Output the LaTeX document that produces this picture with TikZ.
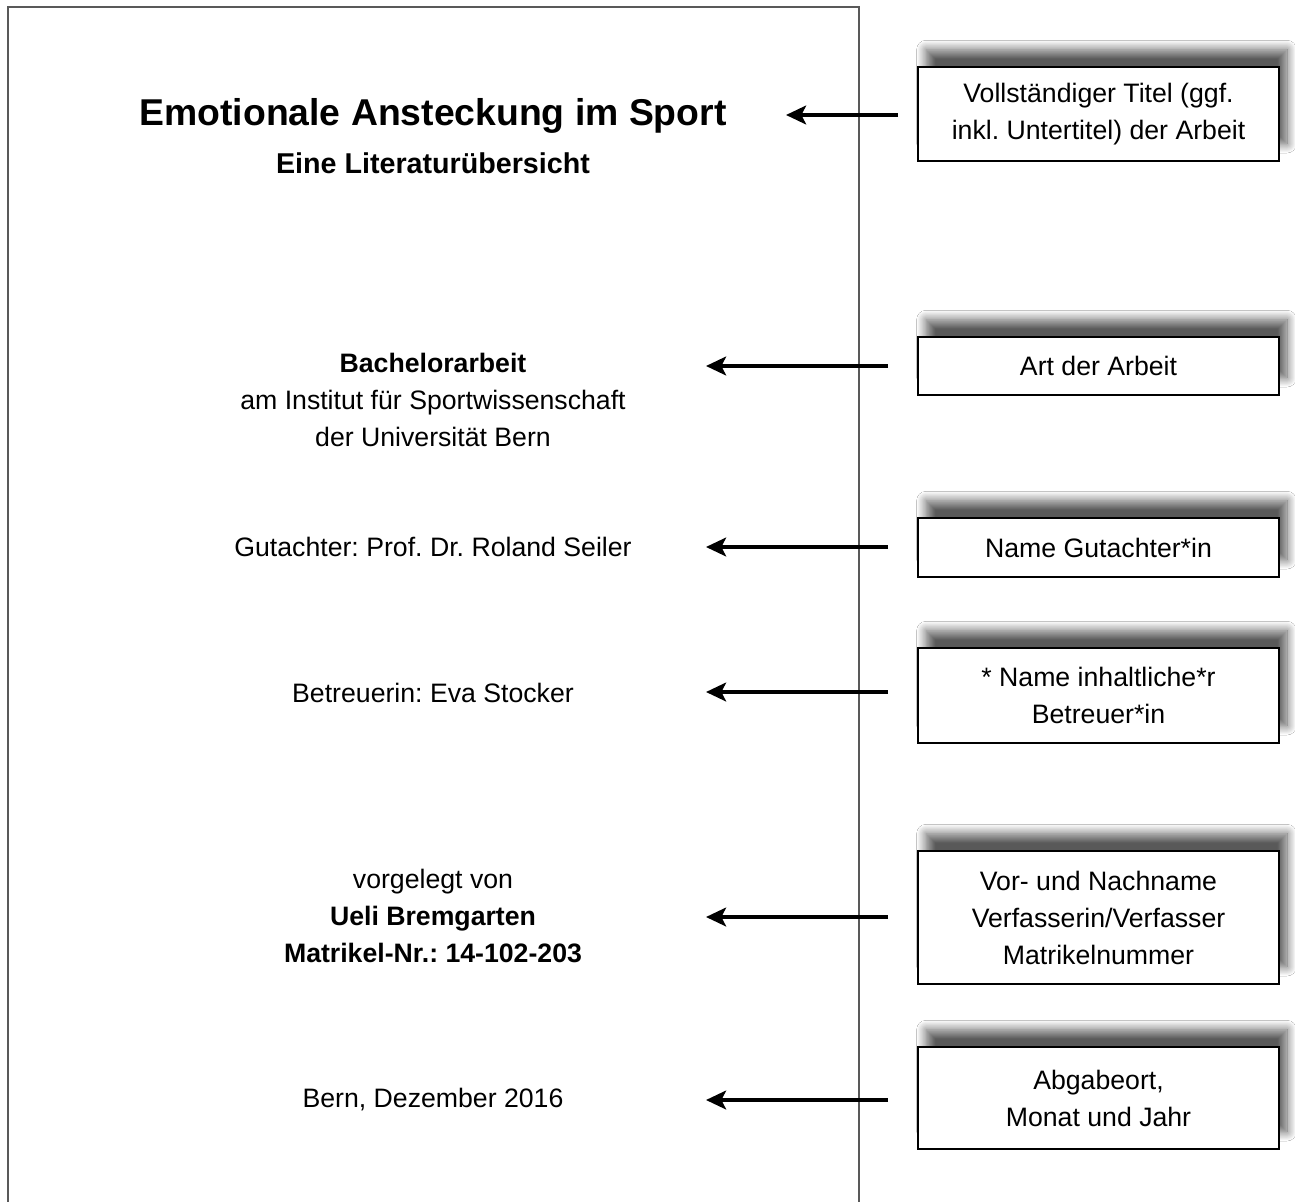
\documentclass[tikz,border=0pt]{standalone}
\usepackage{fontspec}
\setmainfont{Liberation Sans}
\usetikzlibrary{arrows.meta,shadows.blur}
\begin{document}
\frenchspacing
\begin{tikzpicture}[x=0.75pt,y=-0.75pt,
  pagetext/.style={align=center,font=\fontsize{20}{27.75}\selectfont,inner sep=0pt},
  infobox/.style={draw=black,line width=1.1pt,fill=white,align=center,
    minimum width=270.75pt,inner sep=0pt,
    font=\fontsize{20}{27.75}\selectfont,
    blur shadow={shadow xshift=6pt,shadow yshift=13pt,shadow blur radius=7pt,shadow blur steps=12,shadow opacity=65}},
  pointer/.style={line width=3.6pt,-{Stealth[length=15pt,width=14pt,inset=3.5pt]}}]
\useasboundingbox (0,0) rectangle (1295,1202);
\fill[white] (0,0) rectangle (1295,1202);
% page
\draw[line width=1.5pt,color=black!65] (8,1202) -- (8,7) -- (859,7) -- (859,1202);
% page texts
\node[pagetext,font=\fontsize{28}{34}\selectfont\bfseries] (title) at (433,116) {Emotionale Ansteckung im Sport};
\node[pagetext,font=\fontsize{21.5}{27}\selectfont\bfseries] (subtitle) at (433,163) {Eine Literaturübersicht};
\node[pagetext] (art) at (433,400) {\textbf{Bachelorarbeit}\\am Institut für Sportwissenschaft\\der Universität Bern};
\node[pagetext] (gut) at (433,547) {Gutachter: Prof. Dr. Roland Seiler};
\node[pagetext] (betr) at (433,693) {Betreuerin: Eva Stocker};
\node[pagetext] (verf) at (433,916) {vorgelegt von\\\textbf{Ueli Bremgarten}\\\textbf{Matrikel-Nr.: 14-102-203}};
\node[pagetext] (ort) at (433,1100) {Bern, Dezember 2016};
% info boxes
\node[infobox,minimum height=70.5pt] (b1) at (1098.5,114) {Vollständiger Titel (ggf.\\inkl. Untertitel) der Arbeit};
\node[infobox,minimum height=43.5pt] (b2) at (1098.5,366) {Art der Arbeit};
\node[infobox,minimum height=44.25pt] (b3) at (1098.5,547.5) {Name Gutachter*in};
\node[infobox,minimum height=71.25pt] (b4) at (1098.5,695.5) {* Name inhaltliche*r\\Betreuer*in};
\node[infobox,minimum height=99.75pt] (b5) at (1098.5,917.5) {Vor- und Nachname\\Verfasserin/Verfasser\\Matrikelnummer};
\node[infobox,minimum height=76.5pt] (b6) at (1098.5,1098) {Abgabeort,\\Monat und Jahr};
% arrow ends
\coordinate (s1) at (898,115);  \coordinate (e1) at (786,115);
\coordinate (s2) at (888,366);  \coordinate (e2) at (706,366);
\coordinate (s3) at (888,547);  \coordinate (e3) at (706,547);
\coordinate (s4) at (888,692);  \coordinate (e4) at (706,692);
\coordinate (s5) at (888,917);  \coordinate (e5) at (706,917);
\coordinate (s6) at (888,1100); \coordinate (e6) at (706,1100);
\draw[pointer] (s1) -- (e1);
\draw[pointer] (s2) -- (e2);
\draw[pointer] (s3) -- (e3);
\draw[pointer] (s4) -- (e4);
\draw[pointer] (s5) -- (e5);
\draw[pointer] (s6) -- (e6);
\end{tikzpicture}
\end{document}
